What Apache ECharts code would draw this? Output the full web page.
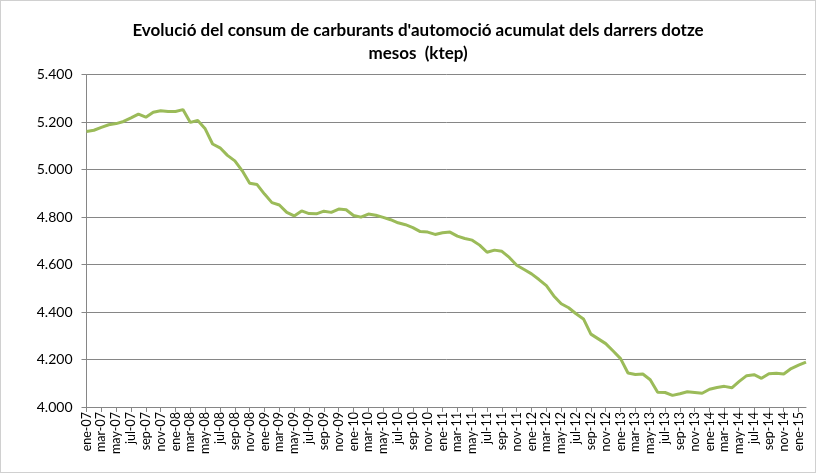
<!DOCTYPE html>
<html>
<head>
<meta charset="utf-8">
<script src="https://cdn.jsdelivr.net/npm/echarts@6/dist/echarts.min.js"></script>
<style>
    html, body { margin: 0; padding: 0; background: #fff; }
    #chart { width: 814px; height: 471px; border: 1px solid #d0d0d0; }
</style>
</head>
<body>
<div id="chart"></div>
<script>
    // month names used for the category labels (ene-07 ... feb-15)
    const monthNames = ['ene', 'feb', 'mar', 'abr', 'may', 'jun', 'jul', 'ago', 'sep', 'oct', 'nov', 'dic'];
    const years = ['07', '08', '09', '10', '11', '12', '13', '14', '15'];

    // accumulated consumption of the last twelve months, ktep
    const consum = [
        5161, 5166, 5178, 5189, 5194, 5203, 5218, 5234, 5221, 5242, 5248, 5245,
        5245, 5253, 5199, 5207, 5172, 5108, 5092, 5060, 5037, 4995, 4943, 4937,
        4897, 4861, 4851, 4820, 4805, 4826, 4815, 4814, 4825, 4820, 4834, 4831,
        4807, 4800, 4813, 4808, 4799, 4789, 4776, 4768, 4756, 4739, 4737, 4727,
        4734, 4737, 4720, 4710, 4703, 4682, 4652, 4661, 4656, 4630, 4597, 4579,
        4561, 4537, 4511, 4468, 4435, 4418, 4393, 4371, 4307, 4287, 4267, 4236,
        4204, 4143, 4137, 4139, 4115, 4062, 4061, 4049, 4056, 4064, 4061, 4058,
        4075, 4082, 4087, 4081, 4108, 4132, 4136, 4121, 4140, 4142, 4139, 4162,
        4176, 4189
    ];

    const categories = [];
    years.forEach(y => monthNames.forEach(m => categories.push(m + '-' + y)));
    categories.length = consum.length;

    const chart = echarts.init(document.getElementById('chart'));

    chart.setOption({
        animation: false,
        title: {
            text: "Evolució del consum de carburants d'automoció acumulat dels darrers dotze\nmesos  (ktep)",
            left: 412,
            textAlign: 'center',
            top: 13,
            textStyle: {
                fontFamily: 'Lato',
                fontWeight: 'bold',
                fontSize: 17,
                lineHeight: 23,
                color: '#000'
            }
        },
        grid: {
            left: 85.5,
            right: 9,
            top: 73.7,
            bottom: 65
        },
        xAxis: {
            type: 'category',
            data: categories,
            boundaryGap: false,
            axisLine: { lineStyle: { color: '#868686', width: 1 } },
            axisTick: { interval: 1, length: 5, lineStyle: { color: '#868686' } },
            axisLabel: {
                interval: 1,
                rotate: 90,
                margin: 5,
                fontFamily: 'Lato',
                fontSize: 12.5,
                color: '#000'
            },
            splitLine: { show: false }
        },
        yAxis: {
            type: 'value',
            min: 4000,
            max: 5400,
            interval: 200,
            axisLine: { show: true, lineStyle: { color: '#868686', width: 1 } },
            axisTick: { show: true, length: 5, lineStyle: { color: '#868686' } },
            axisLabel: {
                margin: 14,
                fontFamily: 'Lato',
                fontSize: 14,
                color: '#000',
                formatter: v => (v / 1000).toFixed(3)
            },
            splitLine: { lineStyle: { color: '#868686', width: 1 } }
        },
        series: [{
            name: 'Consum',
            type: 'line',
            data: consum,
            showSymbol: false,
            symbol: 'none',
            lineStyle: { color: '#9BBB59', width: 3 },
            itemStyle: { color: '#9BBB59' }
        }]
    });
</script>
</body>
</html>
